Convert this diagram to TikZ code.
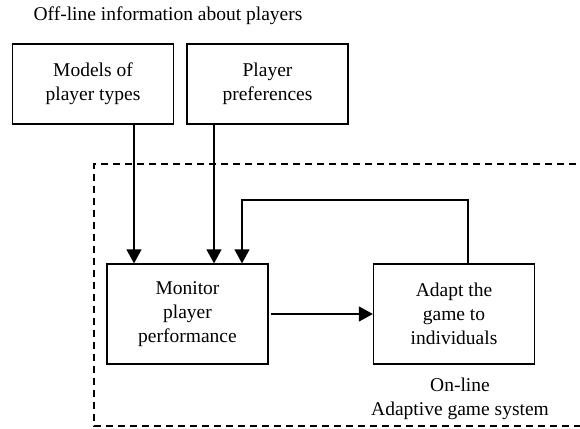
\documentclass[tikz,border=0pt]{standalone}
\usepackage{fontspec}
\setmainfont{Liberation Serif}
\usetikzlibrary{arrows.meta,positioning}

\begin{document}
\begin{tikzpicture}[x=1pt,y=-1pt,>={Triangle[length=14pt,width=15pt]},line width=1.3pt]
    \tikzset{block/.style={draw,minimum width=161pt,align=center,inner sep=0pt,font=\fontsize{19.5}{24}\selectfont},
      plain/.style={align=center,inner sep=0pt,font=\fontsize{19.5}{24}\selectfont}}
    \useasboundingbox (0,0) rectangle (580,428);
    \clip (0,0) rectangle (580,428);
%   off-line part
    \node [plain]   (offline) at (168,16)  {Off-line information about players};
    \node [block,minimum height=80pt]   (models) at (93,84)  {Models of\\player types};
    \node [block,minimum height=80pt]   (prefs) at (267.5,84)  {Player\\preferences};
%   on-line part
    \node [block,minimum height=100pt]   (monitor) at (187.5,314)  {Monitor\\player\\performance};
    \node [block,minimum height=100pt]   (adapt) at (454,314)  {Adapt the\\game to\\individuals};
    \node [plain]   (online) at (460,399)  {On-line\\Adaptive game system};
    \draw[dashed,dash pattern=on 7pt off 5pt] (600,164) -| (94,426) -- (600,426);
%   connectors
    \coordinate (inA) at (134,0);
    \coordinate (inB) at (214,0);
    \coordinate (fbR) at (468,200);
    \coordinate (fbL) at (242,200);
    \draw[->] (models.south -| inA) -- (monitor.north -| inA);
    \draw[->] (prefs.south -| inB) -- (monitor.north -| inB);
    \draw[->] (adapt.north -| fbR) -- (fbR) -- (fbL) -- (monitor.north -| fbL);
    \draw[->] (monitor.east) ++(2,0) -- (adapt.west);
\end{tikzpicture}
\end{document}
